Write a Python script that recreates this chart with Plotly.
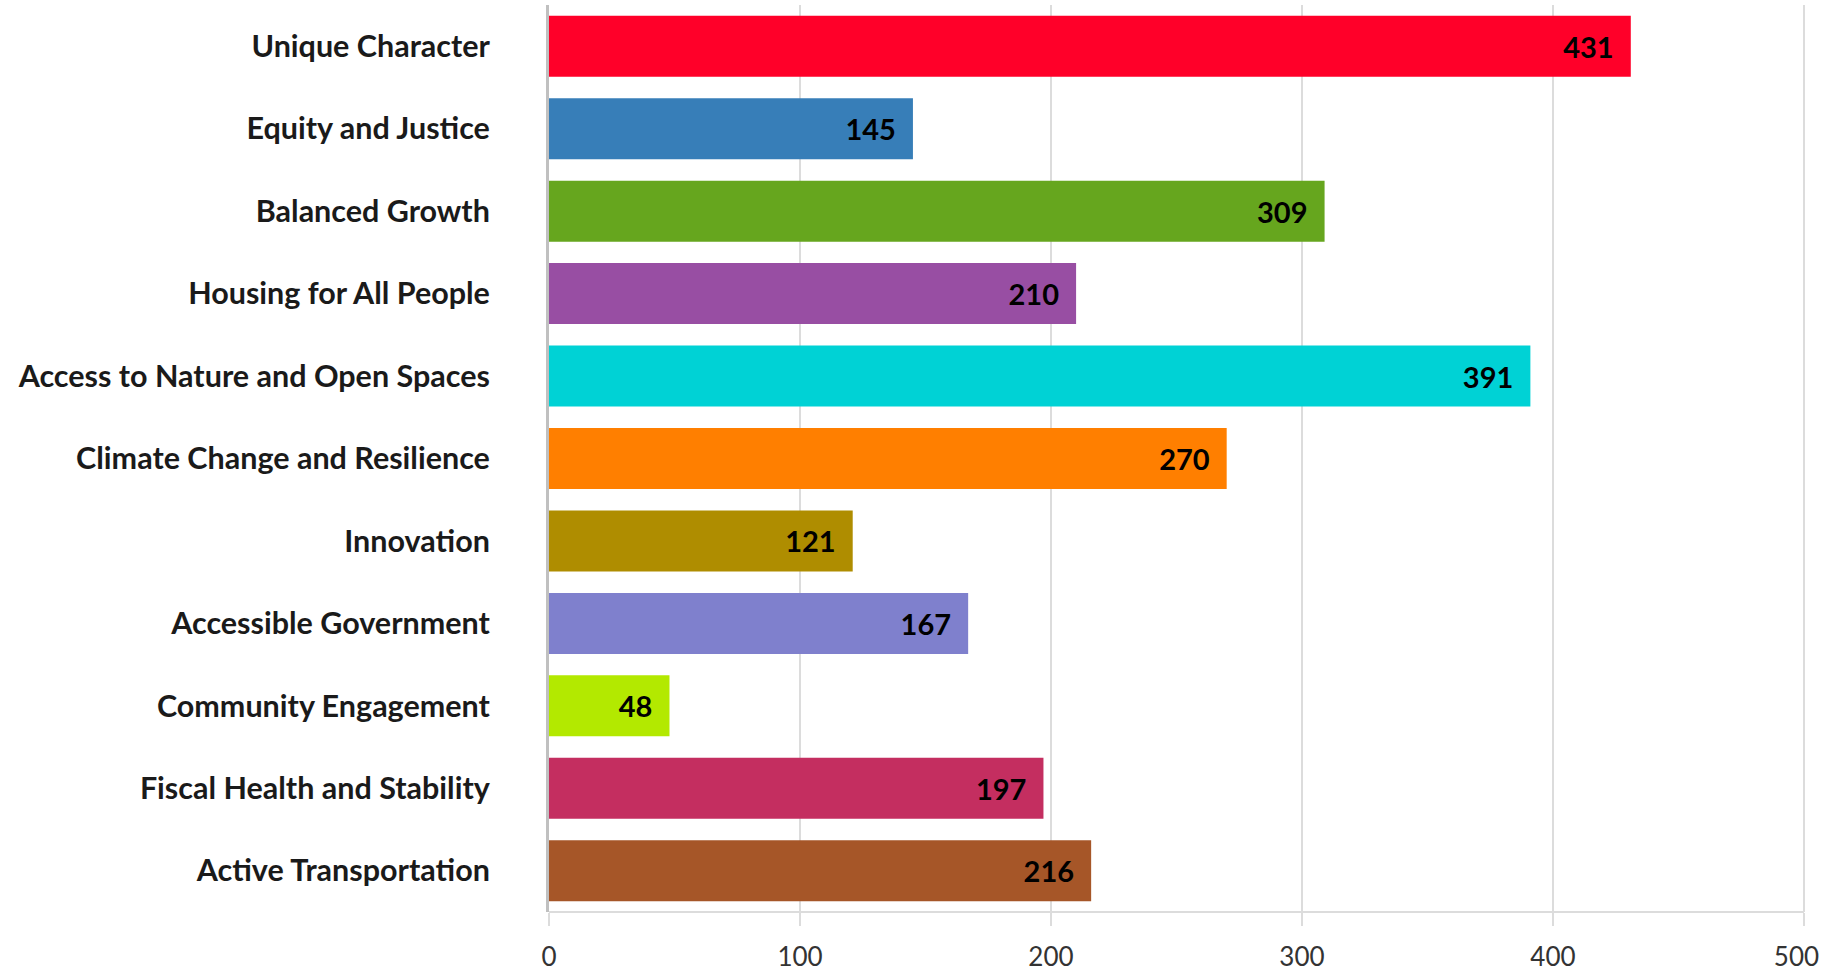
import plotly.graph_objects as go

categories = [
    "Unique Character",
    "Equity and Justice",
    "Balanced Growth",
    "Housing for All People",
    "Access to Nature and Open Spaces",
    "Climate Change and Resilience",
    "Innovation",
    "Accessible Government",
    "Community Engagement",
    "Fiscal Health and Stability",
    "Active Transportation",
]
values = [431, 145, 309, 210, 391, 270, 121, 167, 48, 197, 216]
colors = [
    "#FF0029", "#377EB8", "#66A61E", "#984EA3", "#00D2D5", "#FF7F00",
    "#AF8D00", "#7F80CD", "#B3E900", "#C42E60", "#A65628",
]
x_ticks = [0, 100, 200, 300, 400, 500]

# last label nudged left (transparent padding) so it stays inside the page
tick_text = [str(v) for v in x_ticks]
tick_text[-1] = tick_text[-1] + "<span style='color:rgba(0,0,0,0)'>0</span>"

fig = go.Figure(
    go.Bar(
        x=values,
        y=categories,
        orientation="h",
        marker=dict(color=colors, line=dict(width=0)),
        texttemplate="%{x}\u00a0\u00a0",
        textposition="inside",
        insidetextanchor="end",
        textangle=0,
        constraintext="none",
        textfont=dict(family="Lato", size=29, color="#000000", weight="bold"),
        showlegend=False,
    )
)

fig.update_layout(
    width=1825,
    height=975,
    margin=dict(l=549, r=16, t=5, b=63, autoexpand=False),
    paper_bgcolor="white",
    plot_bgcolor="white",
    bargap=0.26,
    font=dict(family="Lato", color="#1a1a1a"),
)

fig.update_xaxes(
    automargin=False,
    range=[0, 502],
    tickvals=x_ticks,
    ticktext=tick_text,
    showgrid=True,
    gridcolor="#dcdcdc",
    gridwidth=2,
    zeroline=False,
    showline=False,
    ticks="outside",
    ticklen=13,
    tickwidth=2,
    tickcolor="#dcdcdc",
    ticklabelstandoff=9,
    ticklabeloverflow="allow",
    tickfont=dict(family="Lato", size=26, color="#333333"),
)

fig.update_yaxes(
    automargin=False,
    autorange="reversed",
    showgrid=False,
    showline=True,
    linecolor="#c0c0c0",
    linewidth=3,
    ticks="",
    ticklabelstandoff=50,
    tickfont=dict(family="Lato", size=30.5, color="#1a1a1a", weight="bold"),
)

# bottom baseline spanning 0..500 (drawn in data coordinates)
fig.add_shape(
    type="line", xref="x", yref="paper", x0=x_ticks[0], x1=x_ticks[-1], y0=0, y1=0,
    line=dict(color="#dcdcdc", width=2), layer="below",
)

fig.write_html(
    "out.html",
    config={"displayModeBar": False},
    post_script="document.body.style.margin='0px'; document.body.style.overflow='hidden';",
)
